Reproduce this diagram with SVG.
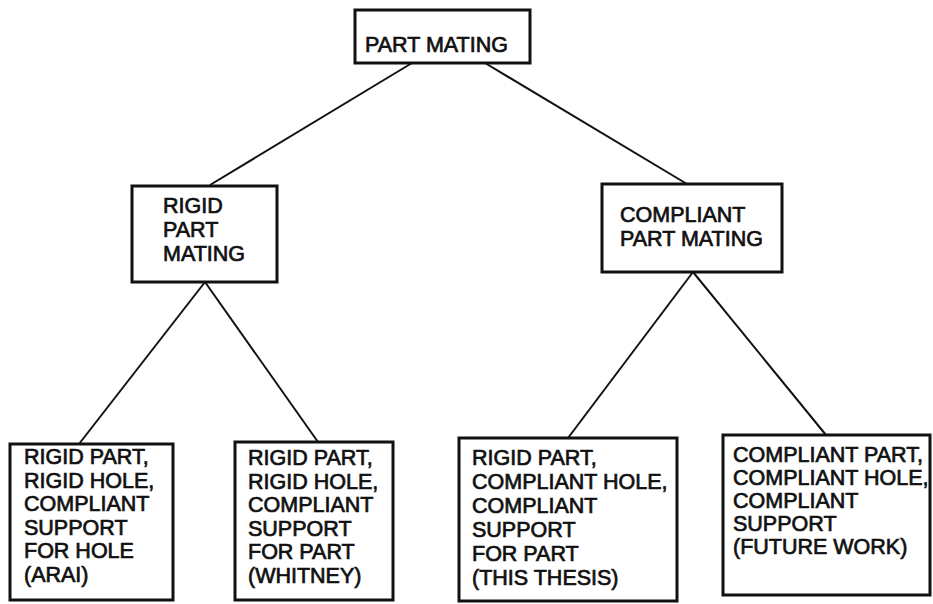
<svg xmlns="http://www.w3.org/2000/svg" width="933" height="604" viewBox="0 0 933 604">
<style>
.box{fill:#fff;stroke:#111;stroke-width:3}
.t{font-family:"Liberation Sans",Arial,sans-serif;font-size:21.5px;fill:#111;stroke:#111;stroke-width:0.7}
.c{stroke:#111;stroke-width:2;fill:none}
</style>
<rect width="933" height="604" fill="#fff"/>
<g id="connectors">
<line class="c" x1="412" y1="63" x2="210" y2="185"/>
<line class="c" x1="485" y1="63" x2="687" y2="184"/>
<line class="c" x1="205" y1="282" x2="79" y2="444"/>
<line class="c" x1="205" y1="282" x2="318" y2="442"/>
<line class="c" x1="693" y1="272" x2="568" y2="438"/>
<line class="c" x1="693" y1="272" x2="826" y2="435"/>
</g>
<g id="part-mating">
<rect class="box" x="355" y="10" width="175" height="53"/>
<text class="t" x="365" y="52">PART MATING</text>
</g>
<g id="rigid-part-mating">
<rect class="box" x="132" y="186" width="145" height="96"/>
<text class="t" x="163" y="213">RIGID</text>
<text class="t" x="163" y="237">PART</text>
<text class="t" x="163" y="261">MATING</text>
</g>
<g id="compliant-part-mating">
<rect class="box" x="602" y="184" width="180" height="88"/>
<text class="t" x="620" y="222">COMPLIANT</text>
<text class="t" x="620" y="246">PART MATING</text>
</g>
<g id="arai">
<rect class="box" x="10" y="444" width="163" height="156"/>
<text class="t" x="24" y="464">RIGID PART,</text>
<text class="t" x="24" y="487.5">RIGID HOLE,</text>
<text class="t" x="24" y="511">COMPLIANT</text>
<text class="t" x="24" y="534.5">SUPPORT</text>
<text class="t" x="24" y="558">FOR HOLE</text>
<text class="t" x="24" y="581.5">(ARAI)</text>
</g>
<g id="whitney">
<rect class="box" x="235" y="442" width="158" height="158"/>
<text class="t" x="248" y="465">RIGID PART,</text>
<text class="t" x="248" y="488.5">RIGID HOLE,</text>
<text class="t" x="248" y="512">COMPLIANT</text>
<text class="t" x="248" y="535.5">SUPPORT</text>
<text class="t" x="248" y="559">FOR PART</text>
<text class="t" x="248" y="582.5">(WHITNEY)</text>
</g>
<g id="this-thesis">
<rect class="box" x="459" y="438" width="218" height="163"/>
<text class="t" x="472" y="465">RIGID PART,</text>
<text class="t" x="472" y="489">COMPLIANT HOLE,</text>
<text class="t" x="472" y="513">COMPLIANT</text>
<text class="t" x="472" y="537">SUPPORT</text>
<text class="t" x="472" y="561">FOR PART</text>
<text class="t" x="472" y="585">(THIS THESIS)</text>
</g>
<g id="future-work">
<rect class="box" x="723" y="435" width="207" height="160"/>
<text class="t" x="733" y="462">COMPLIANT PART,</text>
<text class="t" x="733" y="485">COMPLIANT HOLE,</text>
<text class="t" x="733" y="508">COMPLIANT</text>
<text class="t" x="733" y="531">SUPPORT</text>
<text class="t" x="733" y="554">(FUTURE WORK)</text>
</g>
</svg>
